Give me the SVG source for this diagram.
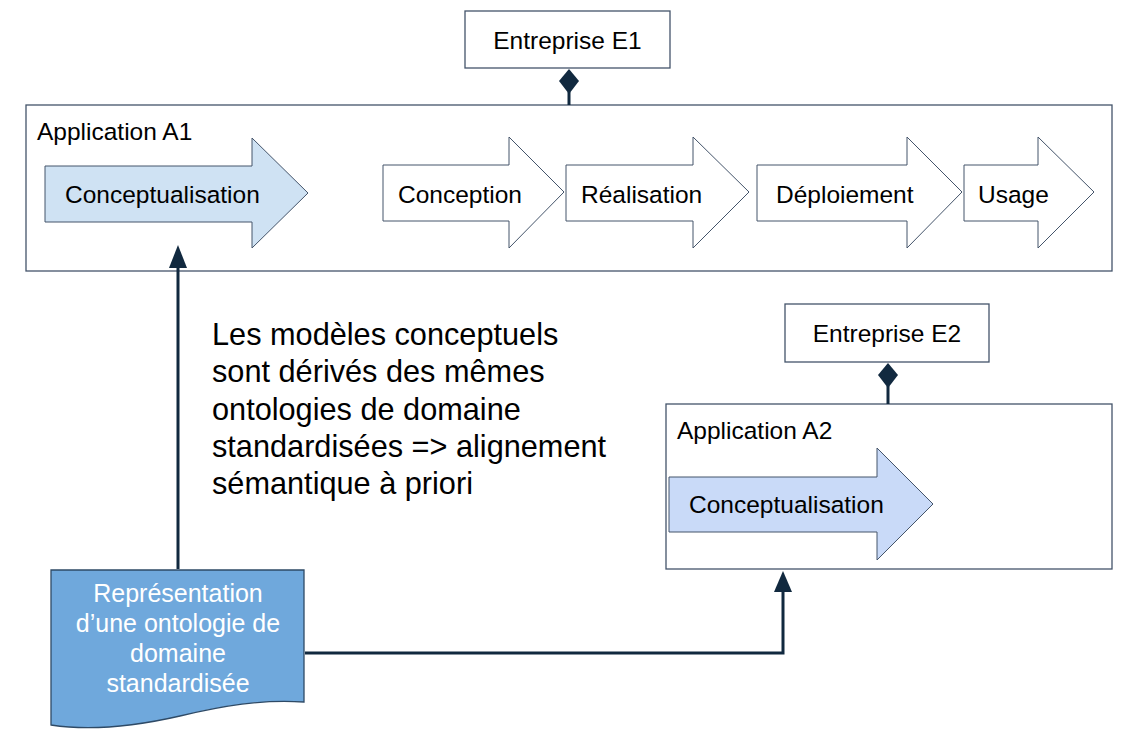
<svg xmlns="http://www.w3.org/2000/svg" width="1148" height="744" viewBox="0 0 1148 744">
<style>
text{font-family:"Liberation Sans",Arial,sans-serif;fill:#000}
.lbl{font-size:24.5px}
.big{font-size:30.7px}
.doc{font-size:25px;fill:#fff}
.box{fill:#fff;stroke:#44546a;stroke-width:1.3}
.arr{stroke:#44546a;stroke-width:1}
.w{fill:#fff}
.c1{fill:#cfe2f3}
.c2{fill:#c9daf8}
.conn{fill:none;stroke:#11293f;stroke-width:3}
.dia{fill:#11293f}
</style>
<rect width="1148" height="744" fill="#fff"/>
<g id="entreprise-e1">
<rect class="box" x="465" y="11" width="205" height="57"/>
<text class="lbl" x="567.5" y="49" text-anchor="middle">Entreprise E1</text>
</g>
<g id="application-a1">
<rect class="box" x="26" y="105" width="1086" height="166"/>
<text class="lbl" x="37" y="140">Application A1</text>
</g>
<g id="conceptualisation-a1">
<path class="arr c1" d="M45,166 H252 V138 L308,193 L252,248 V222 H45 Z"/>
<text class="lbl" x="65" y="203">Conceptualisation</text>
</g>
<g id="conception">
<path class="arr w" d="M383,165 H509 V137 L564,192 L509,248 V221 H383 Z"/>
<text class="lbl" x="398" y="203">Conception</text>
</g>
<g id="realisation">
<path class="arr w" d="M566,165 H693 V137 L749,192 L693,248 V221 H566 Z"/>
<text class="lbl" x="581" y="203">Réalisation</text>
</g>
<g id="deploiement">
<path class="arr w" d="M757,165 H907 V137 L962,192 L907,248 V221 H757 Z"/>
<text class="lbl" x="776" y="203">Déploiement</text>
</g>
<g id="usage">
<path class="arr w" d="M964,165 H1038 V137 L1094,192 L1038,248 V221 H964 Z"/>
<text class="lbl" x="978" y="203">Usage</text>
</g>
<g id="note">
<text class="big" x="212" y="345">Les modèles conceptuels</text>
<text class="big" x="212" y="382">sont dérivés des mêmes</text>
<text class="big" x="212" y="420">ontologies de domaine</text>
<text class="big" x="212" y="457">standardisées =&gt; alignement</text>
<text class="big" x="212" y="494">sémantique à priori</text>
</g>
<g id="entreprise-e2">
<rect class="box" x="785" y="304" width="204" height="58"/>
<text class="lbl" x="887" y="342" text-anchor="middle">Entreprise E2</text>
</g>
<g id="application-a2">
<rect class="box" x="666" y="404" width="446" height="165"/>
<text class="lbl" x="677" y="439">Application A2</text>
</g>
<g id="conceptualisation-a2">
<path class="arr c2" d="M669,477 H877 V448 L933,504 L877,560 V532 H669 Z"/>
<text class="lbl" x="689" y="513">Conceptualisation</text>
</g>
<g id="ontologie">
<path d="M51,570 H304 V702 C262,699 222,706 180,716 C132,727 90,731 51,725 Z" fill="#6fa8dc" stroke="#2e4a66" stroke-width="1.3"/>
<text class="doc" x="178" y="602" text-anchor="middle">Représentation</text>
<text class="doc" x="178" y="632" text-anchor="middle">d’une ontologie de</text>
<text class="doc" x="178" y="662" text-anchor="middle">domaine</text>
<text class="doc" x="178" y="692" text-anchor="middle">standardisée</text>
</g>
<g id="connectors">
<line class="conn" x1="569" y1="92" x2="569" y2="105"/>
<path class="dia" d="M569,69 L579,81 L569,94 L559,81 Z"/>
<line class="conn" x1="888" y1="386" x2="888" y2="404"/>
<path class="dia" d="M888,363 L898,375 L888,388 L878,375 Z"/>
<polyline class="conn" points="178,569 178,262"/>
<path class="dia" d="M178,245 L187,268 L169,268 Z"/>
<polyline class="conn" points="305,653 783,653 783,588"/>
<path class="dia" d="M783,571 L792,592 L774,592 Z"/>
</g>
</svg>
